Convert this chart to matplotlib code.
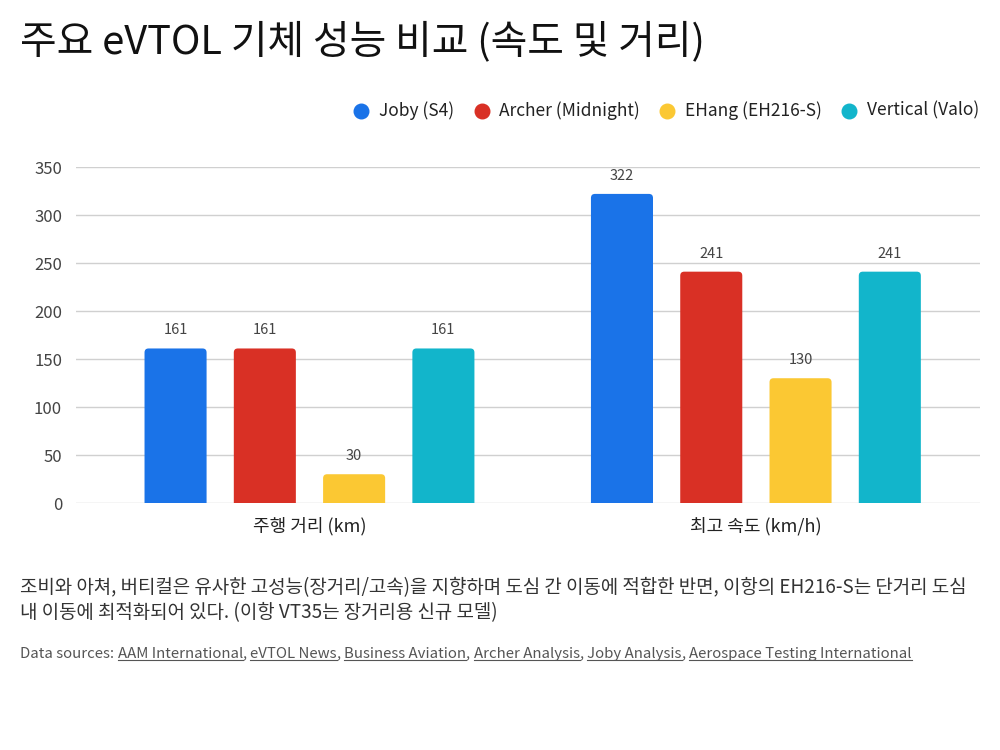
import numpy as np
import matplotlib
matplotlib.use('Agg')
import matplotlib.pyplot as plt
from matplotlib.patches import FancyBboxPatch

plt.rcParams['font.family'] = ['Noto Sans CJK KR', 'DejaVu Sans']

# data
categories = ['주행 거리 (km)', '최고 속도 (km/h)']
models = ['Joby (S4)', 'Archer (Midnight)', 'EHang (EH216-S)', 'Vertical (Valo)']
values = {
    'Joby (S4)': [161, 322],
    'Archer (Midnight)': [161, 241],
    'EHang (EH216-S)': [30, 130],
    'Vertical (Valo)': [161, 241],
}
colors = ['#1a73e8', '#d93025', '#fbc833', '#12b5cb']
yticks = [0, 50, 100, 150, 200, 250, 300, 350]

title = '주요 eVTOL 기체 성능 비교 (속도 및 거리)'
note_lines = ['조비와 아쳐, 버티컬은 유사한 고성능(장거리/고속)을 지향하며 도심 간 이동에 적합한 반면, 이항의 EH216-S는 단거리 도심',
              '내 이동에 최적화되어 있다. (이항 VT35는 장거리용 신규 모델)']
sources = ['AAM International', 'eVTOL News', 'Business Aviation', 'Archer Analysis',
           'Joby Analysis', 'Aerospace Testing International']

fig = plt.figure(figsize=(10, 7.5), dpi=100)
ax = fig.add_axes([0.076, 0.3293, 0.904, 0.448])

x = np.arange(len(categories))
step = 0.2
width = 0.139
px_x = 446.5  # pixels per x unit
px_y = 0.96   # pixels per y unit
for i, (m, c) in enumerate(zip(models, colors)):
    offs = (i - 1.5) * step
    for xi, v in zip(x, values[m]):
        left = xi + offs - width / 2
        patch = FancyBboxPatch((left, -10), width, v + 10,
                               boxstyle='round,pad=0,rounding_size=0.009',
                               mutation_aspect=px_x / px_y,
                               facecolor=c, edgecolor='none', zorder=3)
        ax.add_patch(patch)
        ax.annotate(str(v), (xi + offs, v), xytext=(0, 8), textcoords='offset points',
                    ha='center', va='bottom', fontsize=10.5, color='#444444')
    ax.scatter([], [], color=c, s=110, label=m)

ax.set_xlim(-0.523, 1.502)
ax.set_ylim(0, 350)
ax.set_yticks(yticks)
ax.set_xticks(x)
ax.set_xticklabels(categories, fontsize=13, color='#222222')
ax.tick_params(axis='y', length=0, pad=10, labelsize=12, labelcolor='#444444')
ax.tick_params(axis='x', length=0, pad=10)
ax.grid(axis='y', color='#d0d0d0', linewidth=1, zorder=0)
ax.set_axisbelow(True)
for s in ax.spines.values():
    s.set_visible(False)

fig.legend(loc='center right', bbox_to_anchor=(0.986, 0.853), ncol=4, frameon=False,
           fontsize=12.5, handlelength=0.8, handletextpad=0.6, columnspacing=1.2,
           borderaxespad=0, labelcolor='#222222')

fig.text(0.02, 0.944, title, fontsize=28.7, color='#111111', va='center')
fig.text(0.02, 0.217, note_lines[0], fontsize=13.65, color='#333333', va='center')
fig.text(0.02, 0.183, note_lines[1], fontsize=13.65, color='#333333', va='center')

# data sources line with underlined links
fig.canvas.draw()
renderer = fig.canvas.get_renderer()
xpos = 20
ypos = 750 - 654
fs = 10.8
t = fig.text(xpos / 1000, ypos / 750, 'Data sources: ', fontsize=fs, color='#555555', va='center')
xpos = t.get_window_extent(renderer).x1
for k, src in enumerate(sources):
    t = fig.text(xpos / 1000, ypos / 750, src, fontsize=fs, color='#555555', va='center')
    bb = t.get_window_extent(renderer)
    fig.add_artist(plt.Line2D([bb.x0 / 1000, bb.x1 / 1000], [(bb.y0 + 1) / 750] * 2,
                              color='#555555', linewidth=0.8, transform=fig.transFigure))
    xpos = bb.x1
    if k < len(sources) - 1:
        t = fig.text(xpos / 1000, ypos / 750, ', ', fontsize=fs, color='#555555', va='center')
        xpos = t.get_window_extent(renderer).x1

fig.savefig('out.png', dpi=100)
